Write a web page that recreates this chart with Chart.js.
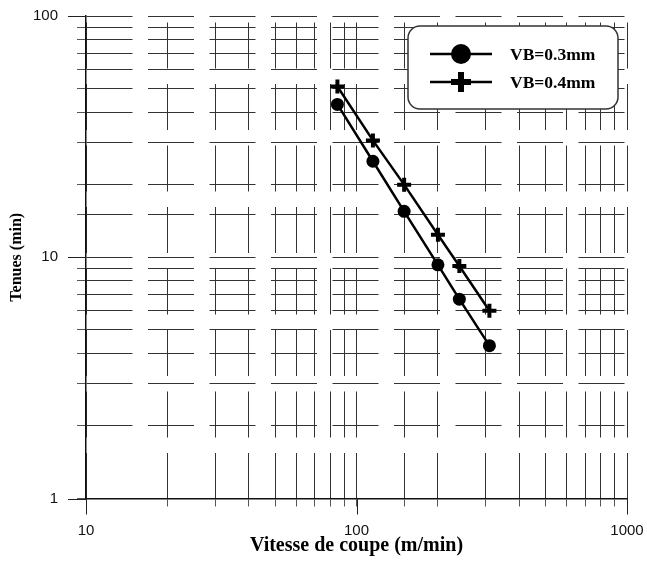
<!DOCTYPE html>
<html>
<head>
<meta charset="utf-8">
<script src="https://cdn.jsdelivr.net/npm/chart.js@4/dist/chart.umd.min.js"></script>
<style>
  html, body { margin: 0; padding: 0; background: #fff; }
  #wrap { width: 647px; height: 561px; }
</style>
</head>
<body>
<div id="wrap"><canvas id="c" width="647" height="561"></canvas></div>
<script>
// Cutting speed (m/min) and measured tool life (min) for two flank-wear criteria
const speeds = [85, 115, 150, 200, 240, 310];
const toolLife03 = [43, 25, 15.5, 9.3, 6.7, 4.3];
const toolLife04 = [51, 30.5, 20, 12.4, 9.2, 6.0];
const seriesLabels = ['VB=0.3mm', 'VB=0.4mm'];
const xLimits = [10, 1000];
const yLimits = [1, 100];

const isDecade = v => { const l = Math.log10(v); return Math.abs(l - Math.round(l)) < 1e-9; };
const pts = ys => speeds.map((x, i) => ({ x: x, y: ys[i] }));

const GRID = '#333';
const SERIF = '"Liberation Serif", "Times New Roman", serif';
const SANS = '"Liberation Sans", Arial, sans-serif';

// Longer tick marks at each decade
const decadeTicks = {
  id: 'decadeTicks',
  afterDraw(chart) {
    const { ctx, chartArea, scales } = chart;
    ctx.save();
    ctx.strokeStyle = '#222';
    ctx.lineWidth = 1;
    scales.x.ticks.forEach(t => {
      if (!isDecade(t.value)) return;
      const px = Math.round(scales.x.getPixelForValue(t.value)) + 0.5;
      ctx.beginPath();
      ctx.moveTo(px, chartArea.bottom);
      ctx.lineTo(px, chartArea.bottom + 16);
      ctx.stroke();
    });
    scales.y.ticks.forEach(t => {
      if (!isDecade(t.value)) return;
      const py = Math.round(scales.y.getPixelForValue(t.value)) + 0.5;
      ctx.beginPath();
      ctx.moveTo(chartArea.left, py);
      ctx.lineTo(chartArea.left - 18, py);
      ctx.stroke();
    });
    ctx.restore();
  }
};

// Framed legend with rounded corners in the upper right
const boxLegend = {
  id: 'boxLegend',
  afterDraw(chart) {
    const { ctx, chartArea } = chart;
    const x0 = chartArea.right - 219, y0 = chartArea.top + 10, w = 210, h = 83;
    ctx.save();
    ctx.beginPath();
    ctx.roundRect(x0, y0, w, h, 12);
    ctx.fillStyle = '#fff';
    ctx.fill();
    ctx.lineWidth = 1.5;
    ctx.strokeStyle = '#333';
    ctx.stroke();
    const styles = ['circle', 'cross'];
    const rows = [y0 + 28, y0 + 56];
    rows.forEach((ry, i) => {
      ctx.strokeStyle = '#000';
      ctx.lineWidth = 2.5;
      ctx.beginPath();
      ctx.moveTo(x0 + 22, ry);
      ctx.lineTo(x0 + 84, ry);
      ctx.stroke();
      const mx = x0 + 53;
      if (styles[i] === 'circle') {
        ctx.fillStyle = '#000';
        ctx.beginPath();
        ctx.arc(mx, ry, 10, 0, Math.PI * 2);
        ctx.fill();
      } else {
        ctx.lineWidth = 6;
        ctx.beginPath();
        ctx.moveTo(mx - 10, ry); ctx.lineTo(mx + 10, ry);
        ctx.moveTo(mx, ry - 10); ctx.lineTo(mx, ry + 10);
        ctx.stroke();
      }
      ctx.fillStyle = '#000';
      ctx.font = 'bold 17.5px ' + SERIF;
      ctx.textBaseline = 'middle';
      ctx.textAlign = 'left';
      ctx.fillText(seriesLabels[i], x0 + 102, ry + 1);
    });
    ctx.restore();
  }
};

new Chart(document.getElementById('c'), {
  type: 'scatter',
  data: {
    datasets: [
      {
        label: seriesLabels[0], data: pts(toolLife03), showLine: true,
        borderColor: '#000', borderWidth: 2.5, backgroundColor: '#000',
        pointStyle: 'circle', pointRadius: 6.5, pointBorderWidth: 0,
        pointBackgroundColor: '#000'
      },
      {
        label: seriesLabels[1], data: pts(toolLife04), showLine: true,
        borderColor: '#000', borderWidth: 2.5, backgroundColor: '#000',
        pointStyle: 'cross', pointRadius: 7, pointBorderWidth: 4,
        pointBorderColor: '#000'
      }
    ]
  },
  options: {
    responsive: false,
    animation: false,
    devicePixelRatio: 1,
    layout: { padding: { top: 16, right: 20, left: 0, bottom: 0 } },
    plugins: { legend: { display: false }, tooltip: { enabled: false } },
    scales: {
      x: {
        type: 'logarithmic', position: 'bottom', min: xLimits[0], max: xLimits[1],
        grid: { color: GRID, lineWidth: 1, tickLength: 8, tickColor: '#555' },
        border: { display: true, color: '#111', width: 1.5, dash: [46, 15.5], dashOffset: 55 },
        ticks: {
          autoSkip: false, maxRotation: 0, minRotation: 0, padding: 15, color: '#111',
          font: { family: SANS, size: 15 },
          callback: v => isDecade(v) ? String(Math.round(v)) : ''
        },
        title: {
          display: true, text: 'Vitesse de coupe (m/min)', color: '#000',
          font: { family: SERIF, size: 20, weight: 'bold' }, padding: { top: 0, bottom: 3 }
        },
        afterFit: s => { s.height = 62.5; s.paddingLeft = 0; s.paddingRight = 0; }
      },
      y: {
        type: 'logarithmic', position: 'left', min: yLimits[0], max: yLimits[1],
        grid: { color: GRID, lineWidth: 1, tickLength: 9, tickColor: '#555' },
        border: { display: true, color: '#111', width: 1.5, dash: [46, 15.5], dashOffset: 0 },
        ticks: {
          autoSkip: false, padding: 19, color: '#111',
          font: { family: SANS, size: 15 },
          callback: v => isDecade(v) ? String(Math.round(v)) : ''
        },
        title: {
          display: true, text: 'Tenues (min)', color: '#000',
          font: { family: SERIF, size: 16, weight: 'bold' }, padding: { top: 7, bottom: 0 }
        },
        afterFit: s => { s.width = 86; s.paddingTop = 0; s.paddingBottom = 0; }
      }
    }
  },
  plugins: [decadeTicks, boxLegend]
});
</script>
</body>
</html>
